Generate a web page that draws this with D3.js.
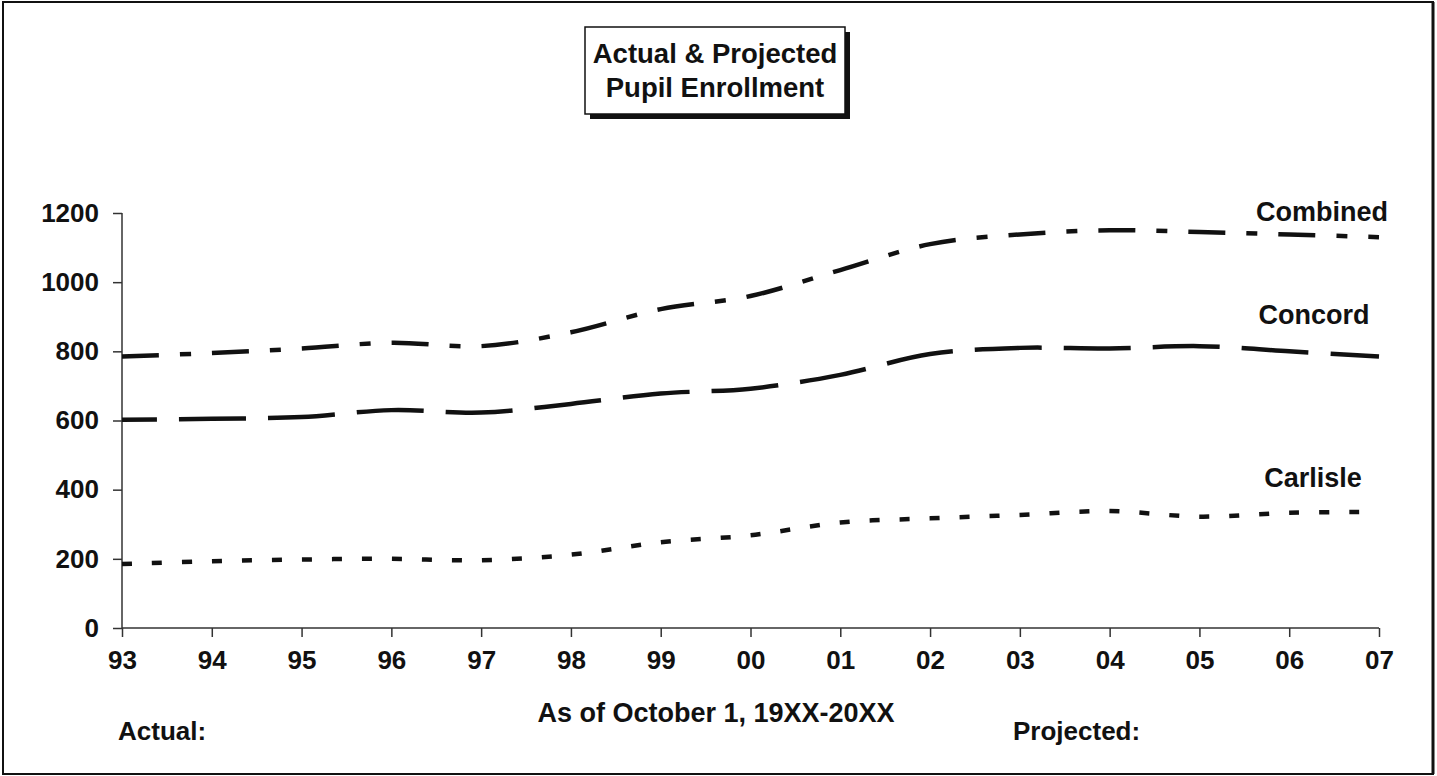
<!DOCTYPE html>
<html>
<head>
<meta charset="utf-8">
<script src="https://cdn.jsdelivr.net/npm/d3@7"></script>
<style>
  html, body { margin: 0; padding: 0; background: #fff; }
  svg { display: block; }
  text { font-family: "Liberation Sans", Arial, Helvetica, sans-serif; font-weight: bold; fill: #111; }
</style>
</head>
<body>
<svg id="chart" width="1437" height="776"></svg>
<script>
// ---- data ----
const years = ["93","94","95","96","97","98","99","00","01","02","03","04","05","06","07"];
const combined = [785, 795, 808, 825, 815, 855, 922, 960, 1035, 1110, 1138, 1150, 1145, 1138, 1130];
const concord  = [602, 605, 610, 630, 623, 648, 678, 692, 732, 792, 810, 808, 815, 800, 785];
const carlisle = [185, 193, 198, 200, 196, 212, 248, 268, 305, 317, 327, 338, 322, 333, 336];
const yTicks = [0, 200, 400, 600, 800, 1000, 1200];
const seriesNames = ["Combined", "Concord", "Carlisle"];
const titleLines = ["Actual & Projected", "Pupil Enrollment"];
const xAxisTitle = "As of October 1, 19XX-20XX";
const footLeft = "Actual:";
const footRight = "Projected:";

// ---- layout ----
const svg = d3.select("#chart");
const x0 = 122, x1 = 1379, yTop = 213, yBot = 628;

const x = d3.scalePoint().domain(years).range([x0, x1]);
const y = d3.scaleLinear().domain([0, 1200]).range([yBot, yTop]);

// outer border
svg.append("rect").attr("x", 3).attr("y", 2).attr("width", 1430).attr("height", 772)
  .attr("fill", "none").attr("stroke", "#111").attr("stroke-width", 2);
svg.append("line").attr("x1", 1433).attr("x2", 1433).attr("y1", 2).attr("y2", 774)
  .attr("stroke", "#111").attr("stroke-width", 3);

// title box with shadow
const tb = {x: 585, y: 27, w: 260, h: 87};
svg.append("rect").attr("x", tb.x + 5).attr("y", tb.y + 5).attr("width", tb.w).attr("height", tb.h).attr("fill", "#111");
svg.append("rect").attr("x", tb.x).attr("y", tb.y).attr("width", tb.w).attr("height", tb.h)
  .attr("fill", "#fff").attr("stroke", "#111").attr("stroke-width", 1.5);
svg.selectAll(".title").data(titleLines).enter().append("text")
  .attr("x", tb.x + tb.w / 2).attr("y", (d, i) => 63 + i * 34)
  .attr("text-anchor", "middle").attr("font-size", 27.5).text(d => d);

// axes
const xAxis = d3.axisBottom(x).tickSize(9).tickPadding(14);
const gx = svg.append("g").attr("transform", `translate(0,${yBot})`).call(xAxis);
gx.select(".domain").attr("stroke", "#333").attr("stroke-width", 1.5).attr("d", `M${x0},0H${x1}`);
gx.selectAll(".tick line").attr("stroke", "#333").attr("stroke-width", 1.5);
gx.selectAll(".tick text").attr("font-size", 26).attr("font-family", "Liberation Sans, Arial, sans-serif")
  .attr("font-weight", "bold").attr("fill", "#111");

const yAxis = d3.axisLeft(y).tickValues(yTicks).tickSize(9).tickPadding(14).tickFormat(d3.format("d"));
const gy = svg.append("g").attr("transform", `translate(${x0},0)`).call(yAxis);
gy.select(".domain").attr("stroke", "#333").attr("stroke-width", 1.5).attr("d", `M0,${yTop}V${yBot}`);
gy.selectAll(".tick line").attr("stroke", "#333").attr("stroke-width", 1.5);
gy.selectAll(".tick text").attr("font-size", 26).attr("font-family", "Liberation Sans, Arial, sans-serif")
  .attr("font-weight", "bold").attr("fill", "#111");

// lines
const line = d3.line().x((d, i) => x(years[i])).y(d => y(d)).curve(d3.curveCatmullRom.alpha(0.5));
const styles = [
  {data: combined, dash: "37,21,11,21", offset: 0, lx: 1322, ly: 221},
  {data: concord,  dash: "67,22", offset: 32, lx: 1314, ly: 324},
  {data: carlisle, dash: "10,20", offset: 0, lx: 1313, ly: 487}
];
styles.forEach((s, i) => {
  svg.append("path").attr("d", line(s.data)).attr("fill", "none").attr("stroke", "#111")
    .attr("stroke-width", 4.5).attr("stroke-dasharray", s.dash).attr("stroke-dashoffset", s.offset);
  svg.append("text").attr("x", s.lx).attr("y", s.ly).attr("text-anchor", "middle")
    .attr("font-size", 27).text(seriesNames[i]);
});

// bottom texts
svg.append("text").attr("x", 716).attr("y", 722).attr("text-anchor", "middle").attr("font-size", 27).text(xAxisTitle);
svg.append("text").attr("x", 118).attr("y", 740).attr("font-size", 26).text(footLeft);
svg.append("text").attr("x", 1013).attr("y", 740).attr("font-size", 26).text(footRight);
</script>
</body>
</html>
